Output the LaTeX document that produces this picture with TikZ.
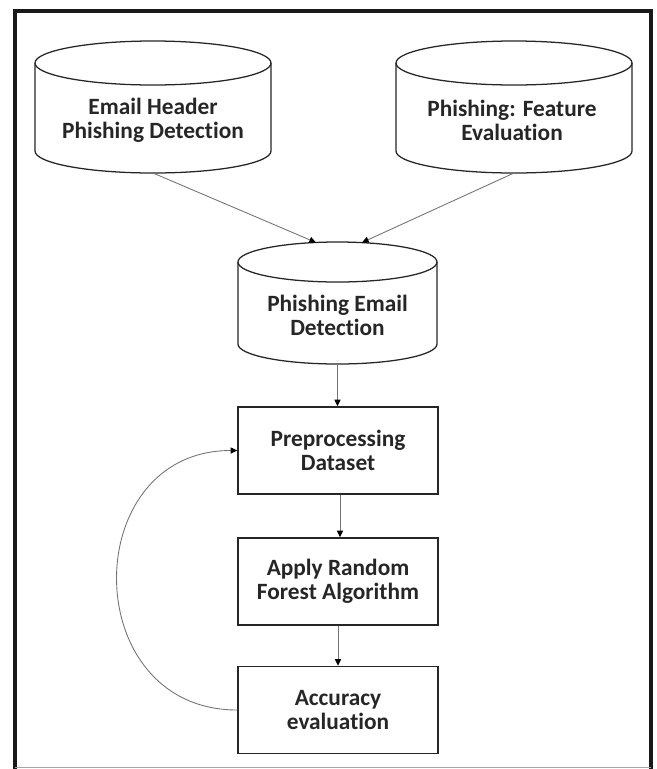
\documentclass[tikz,border=0pt]{standalone}
\usepackage{fontspec}
\setmainfont{Carlito}[Ligatures=NoCommon]
\usetikzlibrary{arrows.meta,calc}

% Database drum: name, centre x, top-ellipse centre y, bottom-ellipse centre y, x radius, y radius
\newcommand{\drum}[6]{%
  \draw[drumline] ({#2-#5},#3) -- ({#2-#5},#4)
    arc[start angle=180,end angle=360,x radius={#5*0.75pt},y radius={#6*0.75pt}]
    -- ({#2+#5},#3);
  \draw[drumline] (#2,#3) ellipse[x radius={#5*0.75pt},y radius={#6*0.75pt}];
  \coordinate (#1-base) at (#2,{#4+#6});
}

\tikzset{
  drumline/.style={draw=black!85,line width=0.95pt},
  label/.style={font=\bfseries\fontsize{17.5}{18}\selectfont,text=black!85,align=center,inner sep=0pt},
  stepbox/.style={label,draw=black!85,line width=1.1pt,minimum width=150pt,minimum height=65.25pt},
  flow/.style={draw=black!55,line width=0.65pt,-{Triangle[length=5pt,width=4.6pt,color=black]}},
}

\begin{document}
\begin{tikzpicture}[x=0.75pt,y=-0.75pt]
  % page
  \fill[white] (0,0) rectangle (657,769);
  \useasboundingbox (0,0) rectangle (657,769);

  % outer frame
  \draw[line width=3pt,line join=miter,black!90] (15,769) -- (15,11) -- (651,11) -- (651,769);
  \draw[line width=0.8pt,black!35] (15,767.5) -- (651,767.5);

  % data sources
  \drum{hdr}{153}{63}{151}{118}{22}
  \node[label] (hdr) at (153,120) {Email Header\\Phishing Detection};

  \drum{feat}{514}{63}{151}{118}{22}
  \node[label] (feat) at (512,120) {Phishing: Feature\\Evaluation};

  \drum{mid}{337.5}{262}{344}{99.5}{20}
  \node[label] (mid) at (337.5,315.5) {Phishing Email\\Detection};
  \coordinate (mid-inl) at (316,242.5);
  \coordinate (mid-inr) at (362,242.5);

  % processing steps
  \node[stepbox] (pre) at (338,450.5) {Preprocessing\\Dataset};
  \node[stepbox] (rf)  at (338,581.5) {Apply Random\\Forest Algorithm};
  \node[stepbox] (acc) at (338,710)   {Accuracy\\evaluation};

  % connectors
  \draw[flow] (hdr-base) -- (mid-inl);
  \draw[flow] (feat-base) -- (mid-inr);
  \draw[flow] (mid-base) -- (mid-base |- pre.north);
  \draw[flow] ([xshift=1.5pt]pre.south) -- ([xshift=1.5pt]rf.north);
  \draw[flow] (rf.south) -- (acc.north);
  \draw[flow] (acc.west) to[out=180,in=180,looseness=1.58] (pre.west);
\end{tikzpicture}
\end{document}
